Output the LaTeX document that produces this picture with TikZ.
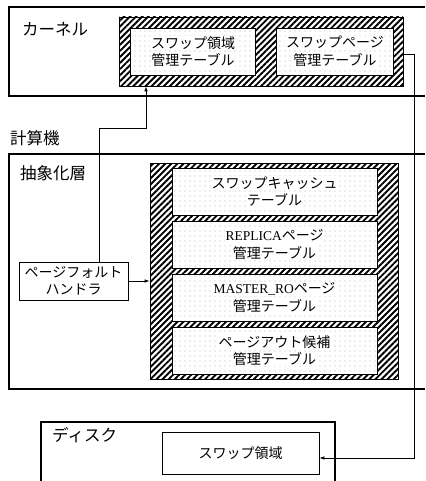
\documentclass[tikz,border=0pt]{standalone}
\usepackage{fontspec}
\setmainfont{Liberation Serif}
\newfontfamily\jp{Noto Sans CJK JP}
\usetikzlibrary{patterns.meta,arrows.meta}
\newcommand\wl[1]{{\setlength{\fboxsep}{0.8pt}\colorbox{white}{#1}}}
\tikzset{
  frame/.style={line width=1.6pt},
  lbl/.style={anchor=west, inner sep=0pt, font=\jp\fontsize{16.5}{19}\selectfont},
  hatchbox/.style={draw, line width=0.7pt, fill=white, inner sep=0pt,
    postaction={pattern={Lines[angle=45, distance=4.3pt, line width=1.9pt]}, pattern color=black}},
  tbl/.style={draw, line width=0.7pt, fill=white, inner sep=0pt, align=center,
    font=\jp\fontsize{14}{17.5}\selectfont,
    postaction={pattern={Dots[radius=0.45pt, distance=5pt]}, pattern color=black!80}},
  plain/.style={draw, line width=0.7pt, fill=white, inner sep=0pt, align=center,
    font=\jp\fontsize{14}{17}\selectfont},
  conn/.style={line width=0.7pt},
  arr/.style={conn, -{Latex[length=5pt, width=3.5pt]}}
}
\begin{document}
\begin{tikzpicture}[x=1pt, y=-1pt]
\useasboundingbox (0,0) rectangle (425,481);
% kernel
\draw[frame] (425,7) -- (9,7) -- (9,96) -- (425,96);
\node[lbl] (kl) at (22,29) {カーネル};
\node[hatchbox, minimum width=284pt, minimum height=69pt] (kh) at (261,51.5) {};
\node[tbl, minimum width=125pt, minimum height=47pt] (ka) at (193,51.5)
  {\wl{スワップ領域}\\\wl{管理テーブル}};
\node[tbl, minimum width=117pt, minimum height=47pt] (kb) at (335,51.5)
  {\wl{スワップページ}\\\wl{管理テーブル}};
% machine label
\node[lbl] (ml) at (10,138) {計算機};
% abstraction layer
\draw[frame] (425,154) -- (9,154) -- (9,389) -- (425,389);
\node[lbl] (al) at (20,173) {抽象化層};
\node[hatchbox, minimum width=248pt, minimum height=216pt] (lh) at (274,271) {};
\node[tbl, minimum width=205pt, minimum height=47pt] (t1) at (274.5,191.5)
  {\wl{スワップキャッシュ}\\\wl{テーブル}};
\node[tbl, minimum width=205pt, minimum height=47pt] (t2) at (274.5,244.5)
  {\wl{{\rmfamily\fontsize{13.5}{17}\selectfont REPLICA}ページ}\\\wl{管理テーブル}};
\node[tbl, minimum width=205pt, minimum height=47pt] (t3) at (274.5,297.5)
  {\wl{{\rmfamily\fontsize{13.5}{17}\selectfont MASTER\_RO}ページ}\\\wl{管理テーブル}};
\node[tbl, minimum width=205pt, minimum height=47pt] (t4) at (274.5,350.5)
  {\wl{ページアウト候補}\\\wl{管理テーブル}};
\node[plain, minimum width=109pt, minimum height=38pt] (h) at (73.5,281)
  {ページフォルト\\ハンドラ};
% disk
\draw[frame] (41,481) -- (41,422) -- (335,422) -- (335,481);
\node[lbl] (dl) at (52,435) {ディスク};
\node[plain, minimum width=157pt, minimum height=42pt] (sw) at (240.5,453) {スワップ領域};
% connectors
\coordinate (c1) at (99,128);
\coordinate (c2) at (146,128);
\draw[arr] (h.north -| c1) -- (c1) -- (c2) -- (kh.south -| c2);
\draw[arr] (h.east) -- (lh.west |- h.east);
\coordinate (c3) at (414,54);
\coordinate (c4) at (414,458);
\draw[arr] (kh.east |- c3) -- (c3) -- (c4) -- (sw.east |- c4);
\end{tikzpicture}
\end{document}
